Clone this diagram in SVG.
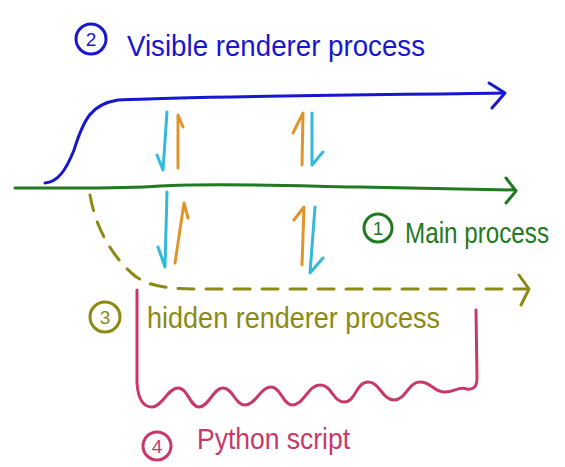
<svg xmlns="http://www.w3.org/2000/svg" width="565" height="467" viewBox="0 0 565 467">
  <style>
    .ln { fill: none; stroke-width: 3; stroke-linecap: round; stroke-linejoin: round; }
    .lbl { font-family: "Liberation Sans", "DejaVu Sans", sans-serif; font-size: 29px; }
    .num { font-family: "Liberation Sans", "DejaVu Sans", sans-serif; font-size: 19px; text-anchor: middle; }
    .blue { stroke: #1717cf; }
    .green { stroke: #1f7a22; }
    .olive { stroke: #8c8a12; }
    .crimson { stroke: #c8396b; }
    .cyan { stroke: #33b9d9; }
    .orange { stroke: #e0952c; }
  </style>
  <rect width="565" height="467" fill="#ffffff"/>

  <!-- (2) visible renderer process timeline -->
  <g id="visible-renderer">
    <path class="ln blue" d="M45,183 C58,182 66,170 74,150 C84,118 92,104 118,100 C200,96 380,95 504,93"/>
    <path class="ln blue" d="M489,83 L505,93 L492,108"/>
    <circle class="ln blue" cx="91" cy="39" r="15"/>
    <text class="num" x="91" y="46" fill="#1717cf">2</text>
    <text class="lbl" x="127" y="56" textLength="298" lengthAdjust="spacingAndGlyphs" fill="#1717cf">Visible renderer process</text>
  </g>

  <!-- (1) main process timeline -->
  <g id="main-process">
    <path class="ln green" d="M15,188 C80,188 120,189 160,186 C220,183 300,186 360,187 C420,188 470,189 515,190"/>
    <path class="ln green" d="M506,178 L516,191 L506,203"/>
    <circle class="ln green" cx="378" cy="228" r="14"/>
    <text class="num" x="378" y="235" fill="#1f7a22">1</text>
    <text class="lbl" x="405" y="243" font-size="24" textLength="144" lengthAdjust="spacingAndGlyphs" fill="#1f7a22">Main process</text>
  </g>

  <!-- (3) hidden renderer process timeline -->
  <g id="hidden-renderer">
    <path class="ln olive" stroke-dasharray="16 12" d="M90,195 C95,225 110,255 135,276 C150,287 170,289 200,289 L526,289"/>
    <path class="ln olive" d="M519,275 L529,289 L521,305"/>
    <circle class="ln olive" cx="105" cy="317" r="15"/>
    <text class="num" x="105" y="324" fill="#8c8a12">3</text>
    <text class="lbl" x="147" y="328" textLength="293" lengthAdjust="spacingAndGlyphs" fill="#8c8a12">hidden renderer process</text>
  </g>

  <!-- (4) python script bracket -->
  <g id="python-script">
    <path class="ln crimson" d="M137,290 L137,383 C138,398 143,407 152,407 C162,407 168,388 178,388 C188,388 190,407 199,407 C209,407 213,388 223,388 C233,388 235,405 245,405 C256,405 260,387 271,387 C281,387 283,405 292,405 C304,405 308,385 320,385 C332,385 333,402 344,402 C356,402 356,382 368,382 C380,382 382,400 394,400 C406,400 408,382 420,382 C432,382 433,392 445,392 C455,392 458,386 467,389 C474,390 477,386 477,378 L476,310"/>
    <circle class="ln crimson" cx="157" cy="446" r="14"/>
    <text class="num" x="157" y="453" fill="#c8396b">4</text>
    <text class="lbl" x="197" y="449" textLength="153" lengthAdjust="spacingAndGlyphs" fill="#c8396b">Python script</text>
  </g>

  <!-- IPC messages between processes -->
  <g id="connectors">
    <!-- visible renderer <-> main, left pair -->
    <path class="ln cyan" d="M167,112 L163,170 L157,155"/>
    <path class="ln orange" d="M178,168 L178,115 L183,127"/>
    <!-- visible renderer <-> main, right pair -->
    <path class="ln orange" d="M302,165 L303,113 L293,133"/>
    <path class="ln cyan" d="M312,113 L312,165 L323,152"/>
    <!-- main <-> hidden renderer, left pair -->
    <path class="ln cyan" d="M167,192 L165,267 L158,247"/>
    <path class="ln orange" d="M175,263 L184,203 L188,218"/>
    <!-- main <-> hidden renderer, right pair -->
    <path class="ln orange" d="M302,265 L304,207 L294,220"/>
    <path class="ln cyan" d="M315,207 L310,273 L323,258"/>
  </g>
</svg>
